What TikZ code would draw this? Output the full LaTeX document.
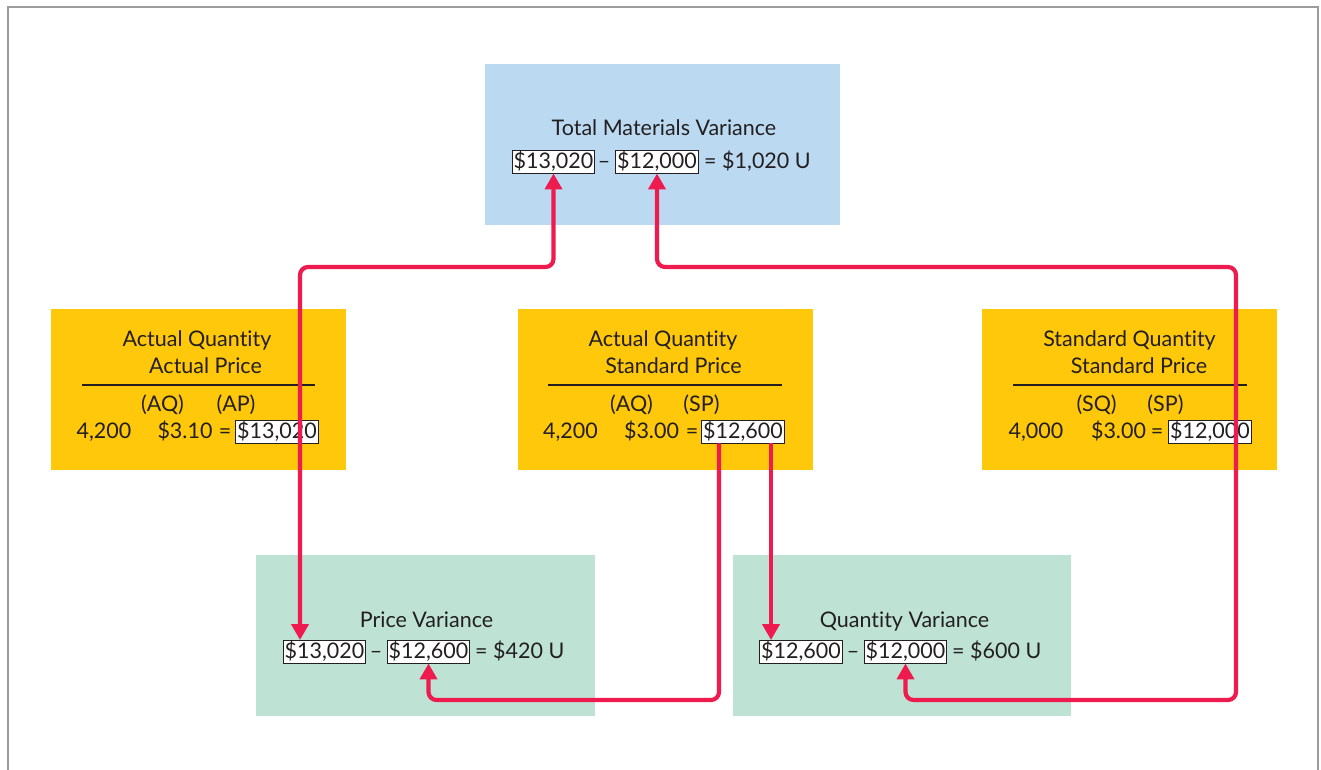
\documentclass[tikz,border=0pt]{standalone}
\usepackage{fontspec}
\setmainfont{Lato}[Ligatures={NoCommon}]
\usetikzlibrary{arrows.meta}
\definecolor{bluebg}{HTML}{BBDAF2}
\definecolor{yellowbg}{HTML}{FFC80B}
\definecolor{greenbg}{HTML}{BEE3D4}
\definecolor{redln}{HTML}{EE1B4E}
\definecolor{framecol}{HTML}{9C9C9C}
\definecolor{txt}{HTML}{231F20}
\begin{document}
\begin{tikzpicture}[x=1pt,y=-1pt,
  font=\fontsize{21.5}{26}\selectfont, text=txt,
  panel/.style={draw=none, minimum height=161pt, inner sep=0pt},
  lbl/.style={inner sep=0pt, anchor=base},
  lblw/.style={inner sep=0pt, anchor=base west},
  numbox/.style={draw=txt, line width=0.9pt, fill=white, inner xsep=1.5pt, inner ysep=2pt, text height=15.5pt, text depth=3pt, anchor=base},
  rulel/.style={draw=txt, line width=1.1pt},
  redline/.style={draw=redln, line width=4.2pt, rounded corners=8pt},
  tipa/.tip={Triangle[width=17pt,length=16pt]}
]
\useasboundingbox (0,0) rectangle (1321,770);
\draw[framecol, line width=2pt] (8,770) -- (8,7) -- (1318,7) -- (1318,770);

% panels
\node[panel, fill=bluebg, minimum width=355pt] (tot) at (662.5,144.5) {};
\node[panel, fill=yellowbg, minimum width=295pt] (apbox) at (198.5,389.5) {};
\node[panel, fill=yellowbg, minimum width=295pt] (spbox) at (665.5,389.5) {};
\node[panel, fill=yellowbg, minimum width=295pt] (sqbox) at (1129.5,389.5) {};
\node[panel, fill=greenbg, minimum width=339pt] (pvbox) at (425.5,635.5) {};
\node[panel, fill=greenbg, minimum width=338pt] (qvbox) at (902,635.5) {};

% top
\node[lbl] (tott) at (664,136) {Total Materials Variance};
\node[numbox] (tv1) at (553.5,168) {\$13,020};
\node[lbl] (tvd) at (604,168) {–};
\node[numbox] (tv2) at (657,168) {\$12,000};
\node[lblw] (tvr) at (704,168) {= \$1,020 U};

% left yellow
\node[lbl] (ap1) at (197,346) {Actual Quantity};
\node[lbl] (ap2) at (205.5,373) {Actual Price};
\coordinate (apr1) at (82,385);
\coordinate (apr2) at (315,385);
\draw[rulel] (apr1) -- (apr2);
\node[lbl] (apq) at (162.5,411) {(AQ)};
\node[lbl] (app) at (236,411) {(AP)};
\node[lbl] (apn) at (104,438) {4,200};
\node[lbl] (apv) at (185,438) {\$3.10};
\node[lbl] (ape) at (225,438) {=};
\node[numbox] (ap) at (277,438) {\$13,020};

% middle yellow
\node[lbl] (sp1) at (663,346) {Actual Quantity};
\node[lbl] (sp2) at (673.5,373) {Standard Price};
\coordinate (spr1) at (548,385);
\coordinate (spr2) at (782,385);
\draw[rulel] (spr1) -- (spr2);
\node[lbl] (spq) at (631.5,411) {(AQ)};
\node[lbl] (spp) at (701.5,411) {(SP)};
\node[lbl] (spn) at (570.5,438) {4,200};
\node[lbl] (spv) at (651.5,438) {\$3.00};
\node[lbl] (spe) at (692,438) {=};
\node[numbox] (sp) at (743,438) {\$12,600};

% right yellow
\node[lbl] (sq1) at (1129.5,346) {Standard Quantity};
\node[lbl] (sq2) at (1139,373) {Standard Price};
\coordinate (sqr1) at (1013,385);
\coordinate (sqr2) at (1247,385);
\draw[rulel] (sqr1) -- (sqr2);
\node[lbl] (sqq) at (1096.5,411) {(SQ)};
\node[lbl] (sqp) at (1165.5,411) {(SP)};
\node[lbl] (sqn) at (1036,438) {4,000};
\node[lbl] (sqv) at (1118.5,438) {\$3.00};
\node[lbl] (sqe) at (1157,438) {=};
\node[numbox] (sq) at (1210,438) {\$12,000};

% price variance
\node[lbl] (pvt) at (426.5,627) {Price Variance};
\node[numbox] (pv1) at (324.5,658) {\$13,020};
\node[lbl] (pvd) at (376,658) {–};
\node[numbox] (pv2) at (428.5,658) {\$12,600};
\node[lblw] (pvr) at (475,658) {= \$420 U};

% quantity variance
\node[lbl] (qvt) at (904.5,627) {Quantity Variance};
\node[numbox] (qv1) at (801,658) {\$12,600};
\node[lbl] (qvd) at (853,658) {–};
\node[numbox] (qv2) at (905.5,658) {\$12,000};
\node[lblw] (qvr) at (952,658) {= \$600 U};

% connectors
\coordinate (c1) at (300,267);
\coordinate (c2) at (1236,267);
\coordinate (c3) at (1236,700);
\coordinate (c4) at (719,700);
\coordinate (c5) at (771,500);
\draw[redline, {tipa}-{tipa}] (tv1.south) |- (c1) -- (c1 |- pv1.north);
\draw[redline, {tipa}-{tipa}] (tv2.south) |- (c2) -- (c3) -| (qv2.south);
\draw[redline, -{tipa}] (sp.south -| c4) -- (c4) -| (pv2.south);
\draw[redline, -{tipa}] (sp.south -| c5) -- (qv1.north -| c5);
\end{tikzpicture}
\end{document}
